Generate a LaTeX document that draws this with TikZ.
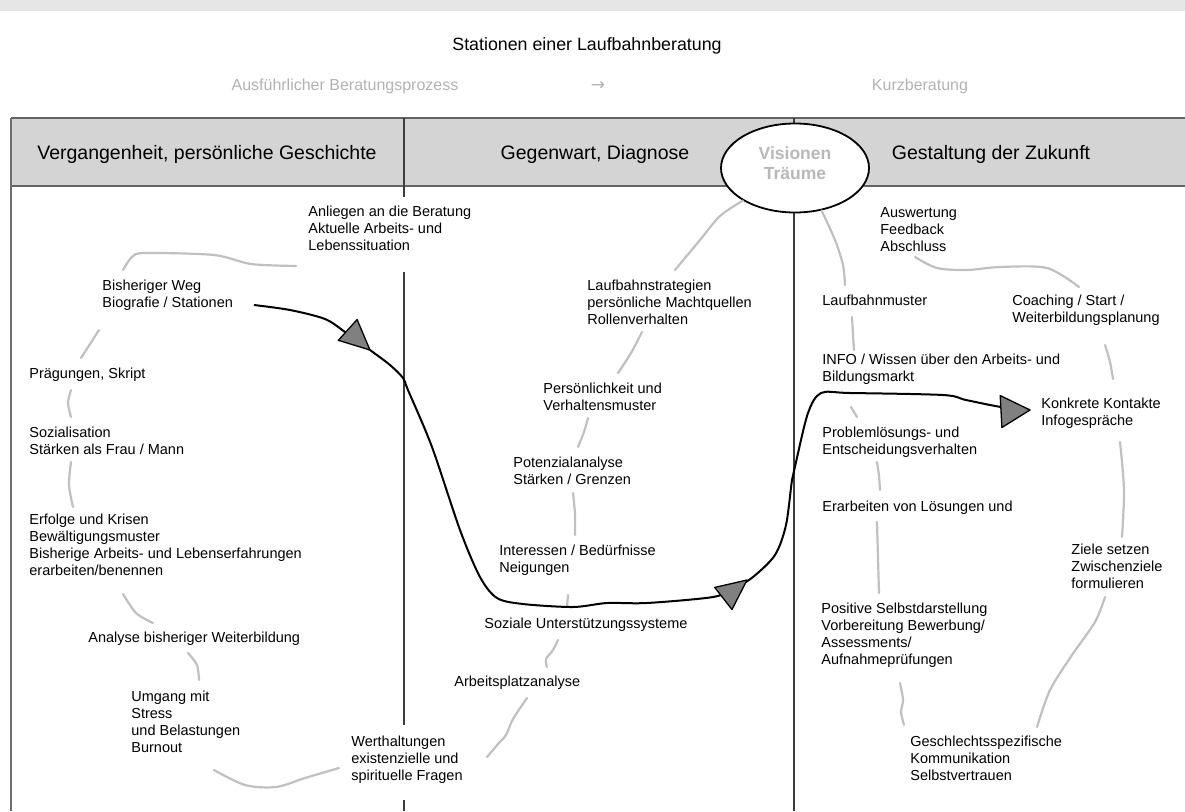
\documentclass[tikz,border=0pt]{standalone}
\usepackage{fontspec}
\setmainfont{Liberation Sans}
\newfontfamily\pfeilfont{DejaVu Sans}
\usetikzlibrary{shapes.geometric,calc}

\tikzset{every picture/.style={line width=0.75pt}}
\tikzset{
  feld/.style={anchor=north west, inner sep=0pt, align=left, font=\fontsize{14.5}{17}\selectfont},
  kopftext/.style={inner sep=0pt, font=\fontsize{19.5}{22}\selectfont},
  blass/.style={inner sep=0pt, text={rgb, 255:red, 178; green, 178; blue, 178 }, font=\fontsize{16}{19}\selectfont},
  verbindung/.style={draw={rgb, 255:red, 192; green, 192; blue, 192 }, line width=2.2pt, line cap=round, line join=round},
  weg/.style={draw=black, line width=2pt, line join=round},
  spitze/.style={draw=black, fill={rgb, 255:red, 128; green, 128; blue, 128 }, line width=1.3pt, line join=round},
  rahmen/.style={draw={rgb, 255:red, 100; green, 100; blue, 100 }, line width=2pt},
  trenner/.style={draw={rgb, 255:red, 60; green, 60; blue, 60 }, line width=1.3pt},
}

\begin{document}
\begin{tikzpicture}[x=1pt,y=1pt,yscale=-1,xscale=1]
\useasboundingbox (0,0) rectangle (1185,811);

%Shape: Rectangle (top strip)
\fill [fill={rgb, 255:red, 230; green, 230; blue, 230 }] (0,0) rectangle (1185,11);

% Title
\node [inner sep=0pt, font=\fontsize{17.8}{21}\selectfont] (titel) at (587,46) {Stationen einer Laufbahnberatung};
\node [blass] (ausfuehrlich) at (345,86) {Ausführlicher Beratungsprozess};
\node [blass, font=\pfeilfont\fontsize{17}{20}\selectfont] (pfeil) at (598,86) {→};
\node [blass] (kurz) at (920,86) {Kurzberatung};

%Shape: Rectangle (header band)
\fill [fill={rgb, 255:red, 212; green, 212; blue, 212 }] (11,118) rectangle (1185,186);
\draw [rahmen] (11,118) -- (1185,118);
\draw [rahmen] (11,186) -- (1185,186);
\draw [draw={rgb, 255:red, 110; green, 110; blue, 110 }, line width=1.5pt] (11,118) -- (11,811);

%Straight Lines (column dividers)
\draw [trenner] (404,118) -- (404,197);
\draw [trenner] (404,272) -- (404,725);
\draw [trenner] (404,800) -- (404,811);
\draw [trenner] (794,118) -- (794,811);

% Header Text
\node [kopftext] (kopfVergangenheit) at (207,154) {Vergangenheit, persönliche Geschichte};
\node [kopftext] (kopfGegenwart) at (595,154) {Gegenwart, Diagnose};
\node [kopftext] (kopfZukunft) at (991,154) {Gestaltung der Zukunft};

%Shape: Ellipse
\node [ellipse, draw=black, line width=1.8pt, fill=white, minimum width=148, minimum height=89, inner sep=0pt] (vision) at (795,168) {};
\node [align=center, inner sep=0pt, text={rgb, 255:red, 184; green, 184; blue, 184 }, font=\bfseries\fontsize{17.5}{20.5}\selectfont] (visionText) at (795,163) {Visionen\\Träume};

% Text Node - Vergangenheit
\node [feld] (anliegen) at (308,206) {Anliegen an die Beratung\\Aktuelle Arbeits- und\\Lebenssituation};
\node [feld] (bisheriger) at (102,280) {Bisheriger Weg\\Biografie / Stationen};
\node [feld] (praegungen) at (29,368) {Prägungen, Skript};
\node [feld] (sozialisation) at (29,427) {Sozialisation\\Stärken als Frau / Mann};
\node [feld] (erfolge) at (29,514) {Erfolge und Krisen\\Bewältigungsmuster\\Bisherige Arbeits- und Lebenserfahrungen\\erarbeiten/benennen};
\node [feld] (analyse) at (88,632) {Analyse bisheriger Weiterbildung};
\node [feld] (umgang) at (131,691) {Umgang mit\\Stress\\und Belastungen\\Burnout};
\node [feld] (werthaltungen) at (351,736) {Werthaltungen\\existenzielle und\\spirituelle Fragen};

% Text Node - Gegenwart
\node [feld] (strategien) at (587,280) {Laufbahnstrategien\\persönliche Machtquellen\\Rollenverhalten};
\node [feld] (persoenlichkeit) at (543,383) {Persönlichkeit und\\Verhaltensmuster};
\node [feld] (potenzial) at (513,457) {Potenzialanalyse\\Stärken / Grenzen};
\node [feld] (interessen) at (499,545) {Interessen / Bedürfnisse\\Neigungen};
\node [feld] (soziale) at (484,618) {Soziale Unterstützungssysteme};
\node [feld] (arbeitsplatz) at (454,676) {Arbeitsplatzanalyse};

% Text Node - Zukunft
\node [feld] (auswertung) at (880,207) {Auswertung\\Feedback\\Abschluss};
\node [feld] (laufbahnmuster) at (822,295) {Laufbahnmuster};
\node [feld] (coaching) at (1012,295) {Coaching / Start /\\Weiterbildungsplanung};
\node [feld] (info) at (822,354) {INFO / Wissen über den Arbeits- und\\Bildungsmarkt};
\node [feld] (kontakte) at (1041,398) {Konkrete Kontakte\\Infogespräche};
\node [feld] (problem) at (822,427) {Problemlösungs- und\\Entscheidungsverhalten};
\node [feld] (erarbeiten) at (822,501) {Erarbeiten von Lösungen und};
\node [feld] (ziele) at (1071,544) {Ziele setzen\\Zwischenziele\\formulieren};
\node [feld] (positive) at (821,603) {Positive Selbstdarstellung\\Vorbereitung Bewerbung/\\Assessments/\\Aufnahmeprüfungen};
\node [feld] (geschlecht) at (910,736) {Geschlechtsspezifische\\Kommunikation\\Selbstvertrauen};

%Curve Lines (grey links)
\draw [verbindung] plot [smooth] coordinates {($(anliegen.north west)+(-12,60)$) (251,264) (214,255) (145,253) (132,257) ($(bisheriger.north west)+(21,-10)$)};
\draw [verbindung] plot [smooth] coordinates {($(bisheriger.north west)+(-3,50)$) (90,344) ($(praegungen.north west)+(52,-10)$)};
\draw [verbindung] plot [smooth] coordinates {($(praegungen.north west)+(42,22)$) (68,403) ($(sozialisation.north west)+(42,-10)$)};
\draw [verbindung] plot [smooth] coordinates {($(sozialisation.north west)+(42,35)$) (69,485) ($(erfolge.north west)+(44,-7)$)};
\draw [verbindung] plot [smooth] coordinates {($(erfolge.north west)+(94,80)$) (136,613) ($(analyse.north west)+(65,-9)$)};
\draw [verbindung] plot [smooth] coordinates {($(analyse.north west)+(100,21)$) (197,665) ($(umgang.north west)+(68,-11)$)};
\draw [verbindung] plot [smooth] coordinates {($(umgang.north west)+(83,79)$) (245,785) (276,787) (305,778) ($(werthaltungen.north west)+(-12,32)$)};
\draw [verbindung] plot [smooth] coordinates {($(werthaltungen.north west)+(136,21)$) (498,744) (506,735) (513,719) ($(arbeitsplatz.north west)+(73,22)$)};
\draw [verbindung] plot [smooth] coordinates {($(arbeitsplatz.north west)+(93,-9)$) (546,659) (553,650) ($(soziale.north west)+(74,22)$)};
\draw [verbindung] ($(soziale.north west)+(83,-11)$) -- ($(interessen.north west)+(69,50)$);
\draw [verbindung] plot [smooth] coordinates {($(interessen.north west)+(76,-10)$) (575,514) ($(potenzial.north west)+(60,36)$)};
\draw [verbindung] plot [smooth] coordinates {($(potenzial.north west)+(65,-10)$) (584,432) ($(persoenlichkeit.north west)+(45,35)$)};
\draw [verbindung] plot [smooth] coordinates {($(persoenlichkeit.north west)+(75,-10)$) (631,353) ($(strategien.north west)+(55,52)$)};
\draw [verbindung] plot [smooth] coordinates {($(strategien.north west)+(88,-10)$) (700,240) (720,216) (vision.212)};
\draw [verbindung] plot [smooth] coordinates {(vision.302) (835,240) (843,265) ($(laufbahnmuster.north west)+(23,-10)$)};
\draw [verbindung] plot [smooth] coordinates {($(laufbahnmuster.north west)+(30,22)$) (853,335) ($(info.north west)+(32,-4)$)};
\draw [verbindung] ($(info.north west)+(29,53)$) -- ($(problem.north west)+(35,-10)$);
\draw [verbindung] plot [smooth] coordinates {($(problem.north west)+(55,35)$) (879,476) ($(erarbeiten.north west)+(58,-11)$)};
\draw [verbindung] plot [smooth] coordinates {($(erarbeiten.north west)+(55,21)$) (878,558) ($(positive.north west)+(58,-10)$)};
\draw [verbindung] plot [smooth] coordinates {($(positive.north west)+(79,80)$) (903,700) (901,712) ($(geschlecht.north west)+(-6,-11)$)};
\draw [verbindung] plot [smooth] coordinates {($(geschlecht.north west)+(127,-9)$) (1050,690) (1072,655) (1095,622) ($(ziele.north west)+(34,53)$)};
\draw [verbindung] plot [smooth] coordinates {($(ziele.north west)+(51,-7)$) (1124,490) ($(kontakte.north west)+(79,44)$)};
\draw [verbindung] plot [smooth] coordinates {($(kontakte.north west)+(72,-19)$) (1110,362) ($(coaching.north west)+(93,50)$)};
\draw [verbindung] plot [smooth] coordinates {($(coaching.north west)+(67,-8)$) (1047,268) (1000,267) (967,270) (937,268) ($(auswertung.north west)+(35,50)$)};

%Curve Lines (black way)
\draw [weg] plot [smooth, tension=0.5] coordinates {($(bisheriger.north west)+(152,25)$) (290,310) (325,319) (345,332) (370,350) (390,365) (403,378) (408,390) (432,447) (460,530) (480,577) (497,598) (523,604) (573,607) (607,603) (647,603) (713,597) (735,588) (753,577) (775,555) (786,525) (792,480) (796,462) (808,413) (821,393) (850,393) (943,395) (966,400) (1001,407) ($(kontakte.north west)+(-11,12)$)};

% Arrow heads
\draw [spitze, shift={(370,350)}, rotate=42] (0,0) -- (-30,-14) -- (-30,14) -- cycle;
\draw [spitze, shift={(747,580)}, rotate=-38] (0,0) -- (-30,-14) -- (-30,14) -- cycle;
\draw [spitze, shift={(1030,410)}, rotate=-3] (0,0) -- (-29,-16) -- (-29,16) -- cycle;

\end{tikzpicture}
\end{document}
